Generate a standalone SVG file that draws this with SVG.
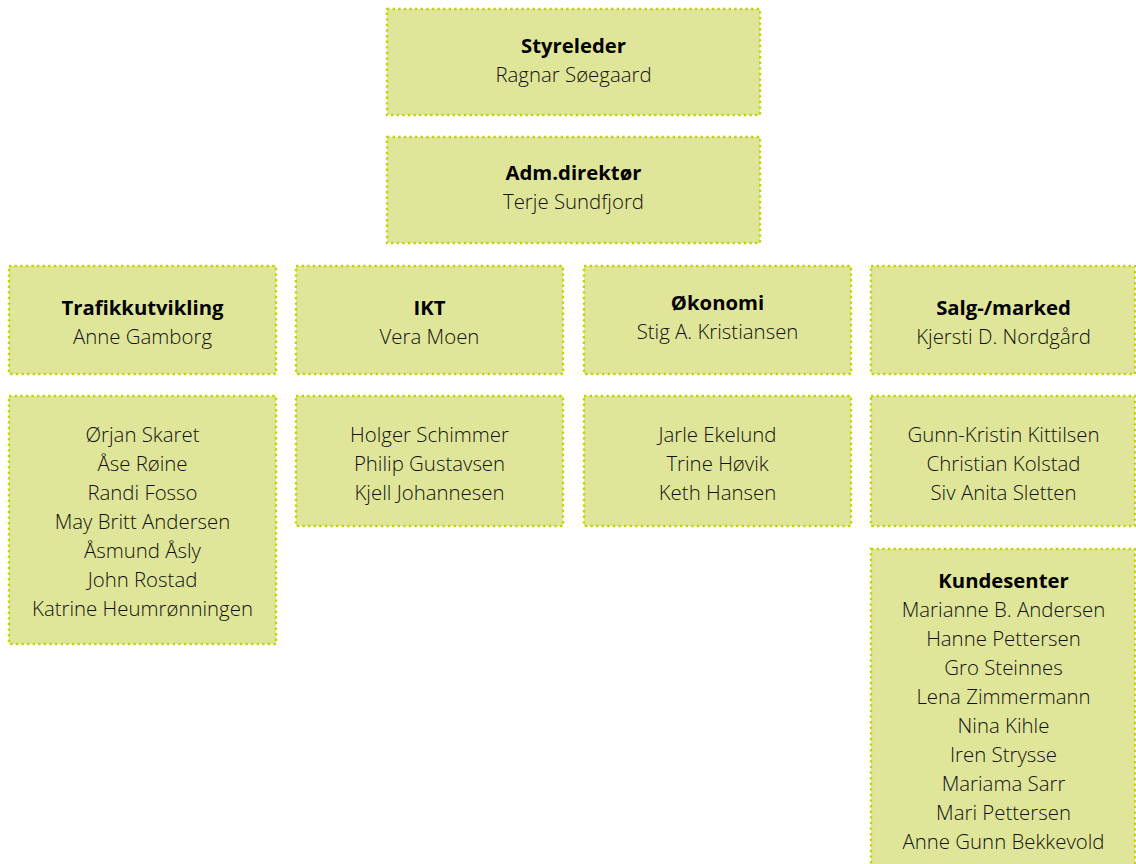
<svg xmlns="http://www.w3.org/2000/svg" width="1136" height="864" viewBox="0 0 1136 864">
<style>
.box{fill:#e0e699;stroke:#c4d300;stroke-width:2.4;stroke-dasharray:2.4 3.2}
text{font-family:"Open Sans","Noto Sans",sans-serif;font-size:20.4px;font-weight:300;text-anchor:middle;fill:#111}
.t{font-weight:bold;font-size:20.3px;fill:#000}
</style>
<rect width="1136" height="864" fill="#ffffff"/>
<g id="connectors"></g>
<g id="styreleder">
<rect class="box" x="387" y="9" width="373" height="106"/>
<text class="t" x="573.5" y="53">Styreleder</text>
<text x="573.5" y="82">Ragnar Søegaard</text>
</g>
<g id="admdirektor">
<rect class="box" x="387" y="137" width="373" height="106"/>
<text class="t" x="573.5" y="180">Adm.direktør</text>
<text x="573.5" y="209">Terje Sundfjord</text>
</g>
<g id="trafikkutvikling">
<rect class="box" x="9" y="266" width="267" height="108"/>
<text class="t" x="142.5" y="315">Trafikkutvikling</text>
<text x="142.5" y="344">Anne Gamborg</text>
</g>
<g id="ikt">
<rect class="box" x="296" y="266" width="267" height="108"/>
<text class="t" x="429.5" y="315">IKT</text>
<text x="429.5" y="344">Vera Moen</text>
</g>
<g id="okonomi">
<rect class="box" x="584" y="266" width="267" height="108"/>
<text class="t" x="717.5" y="310">Økonomi</text>
<text x="717.5" y="339">Stig A. Kristiansen</text>
</g>
<g id="salg">
<rect class="box" x="871" y="266" width="264" height="108"/>
<text class="t" x="1003.5" y="315">Salg-/marked</text>
<text x="1003.5" y="344">Kjersti D. Nordgård</text>
</g>
<g id="trafikk-staff">
<rect class="box" x="9" y="396" width="267" height="248"/>
<text x="142.5" y="442">Ørjan Skaret</text>
<text x="142.5" y="471">Åse Røine</text>
<text x="142.5" y="500">Randi Fosso</text>
<text x="142.5" y="529">May Britt Andersen</text>
<text x="142.5" y="558">Åsmund Åsly</text>
<text x="142.5" y="587">John Rostad</text>
<text x="142.5" y="616">Katrine Heumrønningen</text>
</g>
<g id="ikt-staff">
<rect class="box" x="296" y="396" width="267" height="130"/>
<text x="429.5" y="442">Holger Schimmer</text>
<text x="429.5" y="471">Philip Gustavsen</text>
<text x="429.5" y="500">Kjell Johannesen</text>
</g>
<g id="okonomi-staff">
<rect class="box" x="584" y="396" width="267" height="130"/>
<text x="717.5" y="442">Jarle Ekelund</text>
<text x="717.5" y="471">Trine Høvik</text>
<text x="717.5" y="500">Keth Hansen</text>
</g>
<g id="salg-staff">
<rect class="box" x="871" y="396" width="264" height="130"/>
<text x="1003.5" y="442">Gunn-Kristin Kittilsen</text>
<text x="1003.5" y="471">Christian Kolstad</text>
<text x="1003.5" y="500">Siv Anita Sletten</text>
</g>
<g id="kundesenter">
<rect class="box" x="871" y="549" width="264" height="330"/>
<text class="t" x="1003.5" y="588">Kundesenter</text>
<text x="1003.5" y="617">Marianne B. Andersen</text>
<text x="1003.5" y="646">Hanne Pettersen</text>
<text x="1003.5" y="675">Gro Steinnes</text>
<text x="1003.5" y="704">Lena Zimmermann</text>
<text x="1003.5" y="733">Nina Kihle</text>
<text x="1003.5" y="762">Iren Strysse</text>
<text x="1003.5" y="791">Mariama Sarr</text>
<text x="1003.5" y="820">Mari Pettersen</text>
<text x="1003.5" y="849">Anne Gunn Bekkevold</text>
</g>
</svg>
